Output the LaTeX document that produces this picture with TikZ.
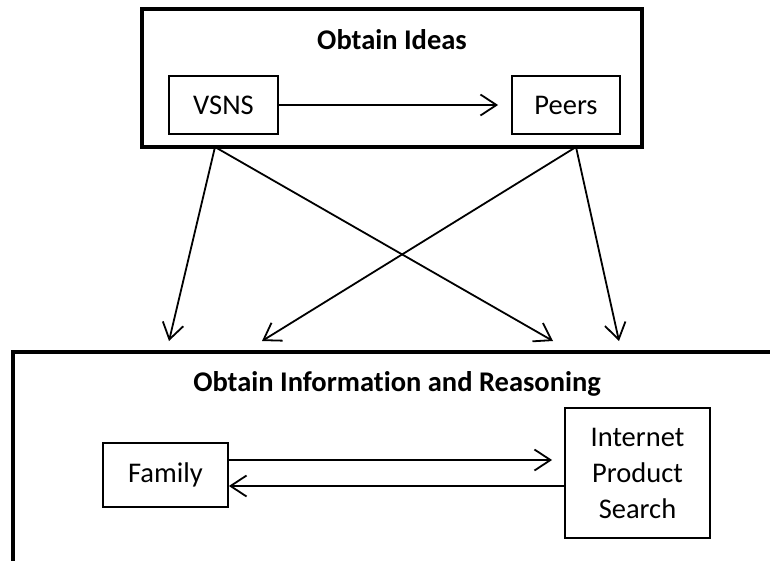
\documentclass[tikz,border=0pt]{standalone}
\usepackage{fontspec}
\setmainfont{Carlito}[Ligatures=NoCommon]
\usetikzlibrary{arrows.meta}
\tikzset{
  txt/.style={font=\fontsize{28.5}{36}\selectfont, inner sep=0pt},
  bigbox/.style={draw, line width=4.2pt, inner sep=0pt},
  smallbox/.style={draw, line width=1.8pt, inner sep=0pt, txt, align=center},
  conn/.style={line width=1.8pt, -{Straight Barb[length=16pt,width=21pt,line width=1.8pt]}},
}
\begin{document}
\begin{tikzpicture}[x=1pt,y=-1pt]
\useasboundingbox (0,0) rectangle (770,560);
\clip (0,0) rectangle (770,560);
% outer boxes
\node[bigbox, minimum width=500pt, minimum height=138pt] (ideas) at (392,78) {};
\node[bigbox, minimum width=790pt, minimum height=240pt] (info) at (408,472) {};
% titles
\node[txt, font=\fontsize{28.5}{36}\selectfont\bfseries, anchor=base] (ideasT) at (392,49) {Obtain Ideas};
\node[txt, font=\fontsize{28.5}{36}\selectfont\bfseries, anchor=base] (infoT) at (397,391) {Obtain Information and Reasoning};
% inner boxes
\node[smallbox, minimum width=109pt, minimum height=58pt] (vsns) at (223.5,105) {VSNS};
\node[smallbox, minimum width=108pt, minimum height=58pt] (peers) at (566,105) {Peers};
\node[smallbox, minimum width=125pt, minimum height=64pt] (family) at (165.5,475) {Family};
\node[smallbox, minimum width=145pt, minimum height=130pt] (ips) at (637.5,473) {Internet\\Product\\Search};
% inner connectors
\draw[conn, shorten >=13pt] (vsns.east) -- (peers.west);
\draw[conn, shorten >=12pt] ([yshift=15pt]family.east) -- ([yshift=13pt]ips.west);
\draw[conn] ([yshift=-13pt]ips.west) -- ([yshift=-11pt]family.east);
% between boxes
\coordinate (s1) at (215,147);
\coordinate (s2) at (576,147);
\coordinate (t1) at (169,341);
\coordinate (t2) at (262,341);
\coordinate (t3) at (553,341);
\coordinate (t4) at (619,341);
\draw[conn] (s1) -- (t1);
\draw[conn] (s1) -- (t3);
\draw[conn] (s2) -- (t2);
\draw[conn] (s2) -- (t4);
\end{tikzpicture}
\end{document}
